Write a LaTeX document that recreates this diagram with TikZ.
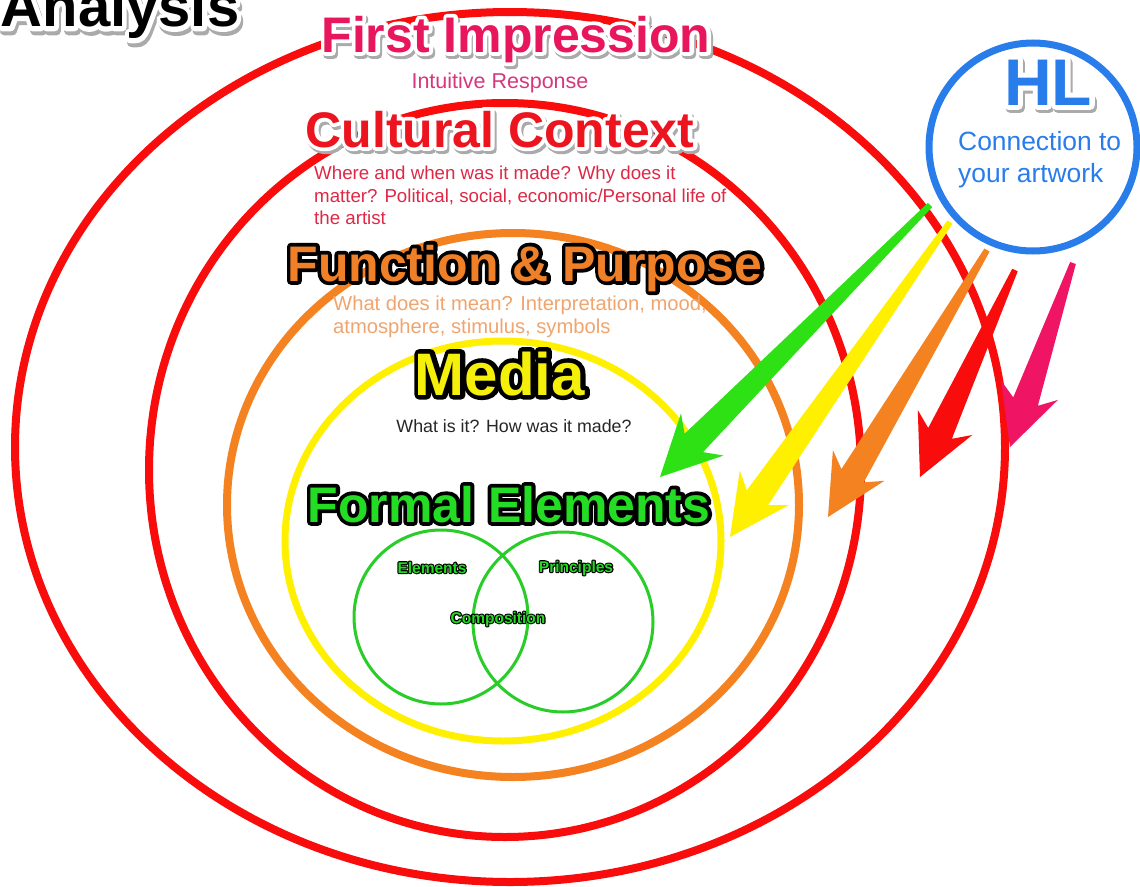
\documentclass[tikz,border=0pt]{standalone}
\usepackage{fontspec}
\setmainfont{Liberation Sans}
\newfontfamily\fatsans{Liberation Sans Bold}[FakeBold=15]
\usepackage{tikz}
\usetikzlibrary{calc}

\definecolor{ringred}{RGB}{248,12,12}
\definecolor{ringorange}{RGB}{245,130,32}
\definecolor{ringyellow}{RGB}{255,240,0}
\definecolor{venngreen}{RGB}{40,205,40}
\definecolor{hlblue}{RGB}{40,125,235}
\definecolor{arrowgreen}{RGB}{45,225,20}
\definecolor{arrowpink}{RGB}{240,20,100}
\definecolor{firstcol}{RGB}{232,22,92}
\definecolor{intuitcol}{RGB}{215,55,125}
\definecolor{culturecol}{RGB}{236,20,30}
\definecolor{culturebody}{RGB}{222,40,70}
\definecolor{funccol}{RGB}{240,128,40}
\definecolor{funcbody}{RGB}{240,165,110}
\definecolor{mediacol}{RGB}{245,240,10}
\definecolor{formalcol}{RGB}{35,220,35}
\definecolor{shadowgray}{RGB}{170,170,170}

\newcommand\headfont{\bfseries\fontsize{50}{56}\selectfont}
\newcommand\headfat{\fatsans\fontsize{50}{56}\selectfont}
\newcommand\mediafont{\bfseries\fontsize{60}{66}\selectfont}
\newcommand\mediafat{\fatsans\fontsize{60}{66}\selectfont}
\newcommand\hlfont{\bfseries\fontsize{66}{72}\selectfont}
\newcommand\hlfat{\fatsans\fontsize{66}{72}\selectfont}
\newcommand\titlefont{\bfseries\fontsize{58}{64}\selectfont}
\newcommand\titlefat{\fatsans\fontsize{58}{64}\selectfont}
\newcommand\vennfont{\bfseries\fontsize{15.5}{18}\selectfont}
\newcommand\vennfat{\fatsans\fontsize{15.5}{18}\selectfont}

% tapered arrow from a tail coordinate to a tip coordinate
\newcommand\fatarrow[3]{%
  \fill[#1] ($(#2)!3pt!90:(#3)$)
    -- ($(#3)!48pt!(#2)!13pt!-90:(#2)$)
    -- ($(#3)!60pt!(#2)!30pt!-90:(#2)$)
    -- (#3)
    -- ($(#3)!60pt!(#2)!30pt!90:(#2)$)
    -- ($(#3)!48pt!(#2)!13pt!90:(#2)$)
    -- ($(#2)!3pt!-90:(#3)$) -- cycle;}

\tikzset{
  ring/.style={line width=8pt},
  venn/.style={draw=venngreen, line width=3pt},
  lbl/.style={anchor=base, inner sep=0pt, line join=round},
  body/.style={anchor=north west, inner sep=0pt, align=left},
}

\begin{document}
\begin{tikzpicture}[x=1pt,y=-1pt]
\fill[white] (0,0) rectangle (1140,886);
\useasboundingbox (0,0) rectangle (1140,886);

% rings
\draw[ring, ringred] (510,447) ellipse [x radius=495, y radius=435];
\draw[ring, ringred] (505,470) ellipse [x radius=356, y radius=367];
\draw[ring, ringorange] (513,505) ellipse [x radius=286, y radius=272];
\draw[ring, ringyellow, line width=7pt] (503,541) ellipse [x radius=218, y radius=200];
\draw[venn] (441,617) circle [radius=87];
\draw[venn] (563,622) circle [radius=90];

\node[draw=hlblue, line width=7pt, circle, minimum size=208pt, inner sep=0pt] (hl) at (1033,147) {};

% headings
\node[lbl, font=\titlefat, text=shadowgray] (an-s) at (122,31) {Analysis};
\node[lbl, font=\titlefat, text=white] (an-w) at (120,27) {Analysis};
\node[lbl, font=\titlefont] (analysis) at (120,27) {Analysis};

\node[lbl, font=\headfat, text=shadowgray] (first-s) at (518,55) {First Impression};
\node[lbl, font=\headfat, text=white] (first-w) at (516,52) {First Impression};
\node[lbl, font=\headfont, text=firstcol] (first) at (516,52) {First Impression};
\node[lbl, font=\fontsize{21.5}{24}\selectfont, text=intuitcol] (intuitive) at (500,88) {Intuitive Response};

\node[lbl, font=\headfat, text=shadowgray] (cultural-s) at (502,150) {Cultural Context};
\node[lbl, font=\headfat, text=white] (cultural-w) at (500,147) {Cultural Context};
\node[lbl, font=\headfont, text=culturecol] (cultural) at (500,147) {Cultural Context};
\node[body, font=\fontsize{18.7}{22.5}\selectfont, text=culturebody] (culturetext) at (314,166)
  {Where and when was it made? Why does it\\matter? Political, social, economic/Personal life of\\the artist};

\node[lbl, font=\headfat, text=black] (function-k) at (525,281) {Function \& Purpose};
\node[lbl, font=\headfont, text=funccol] (function) at (525,281) {Function \& Purpose};
\node[body, font=\fontsize{20.2}{23}\selectfont, text=funcbody] (functext) at (333,295.5)
  {What does it mean? Interpretation, mood,\\atmosphere, stimulus, symbols};

\node[lbl, font=\mediafat, text=black] (media-k) at (500,395) {Media};
\node[lbl, font=\mediafont, text=mediacol] (media) at (500,395) {Media};
\node[lbl, font=\fontsize{17.8}{20}\selectfont, text=black!85] (whatis) at (514,432) {What is it? How was it made?};

\node[lbl, font=\headfat, text=black] (formal-k) at (509,522) {Formal Elements};
\node[lbl, font=\headfont, text=formalcol] (formal) at (509,522) {Formal Elements};

% venn labels
\node[lbl, font=\vennfat, text=black] (elements-k) at (432,573) {Elements};
\node[lbl, font=\vennfat, text=black] (principles-k) at (576,572) {Principles};
\node[lbl, font=\vennfat, text=black] (composition-k) at (498,623) {Composition};
\node[lbl, font=\vennfont, text=formalcol] (elements) at (432,573) {Elements};
\node[lbl, font=\vennfont, text=formalcol] (principles) at (576,572) {Principles};
\node[lbl, font=\vennfont, text=formalcol] (composition) at (498,623) {Composition};

% HL
\node[lbl, font=\hlfat, text=shadowgray] (hltitle-s) at (1050,108) {HL};
\node[lbl, font=\hlfat, text=white] (hltitle-w) at (1048,105) {HL};
\node[lbl, font=\hlfont, text=hlblue] (hltitle) at (1048,105) {HL};
\node[body, font=\fontsize{26.4}{32}\selectfont, text=hlblue] (hltext) at (958,131)
  {Connection to\\your artwork};

% arrows
\coordinate (gtail) at (930,205);  \coordinate (gtip) at (660,477);
\coordinate (ytail) at (950,222);  \coordinate (ytip) at (730,537);
\coordinate (otail) at (987,250);  \coordinate (otip) at (828,517);
\coordinate (rtail) at (1015,270); \coordinate (rtip) at (920,477);
\coordinate (ptail) at (1073,263); \coordinate (ptip) at (1010,447);
\fatarrow{arrowgreen}{gtail}{gtip}
\fatarrow{ringyellow}{ytail}{ytip}
\fatarrow{ringorange}{otail}{otip}
\fatarrow{ringred}{rtail}{rtip}
\fatarrow{arrowpink}{ptail}{ptip}
\end{tikzpicture}
\end{document}
